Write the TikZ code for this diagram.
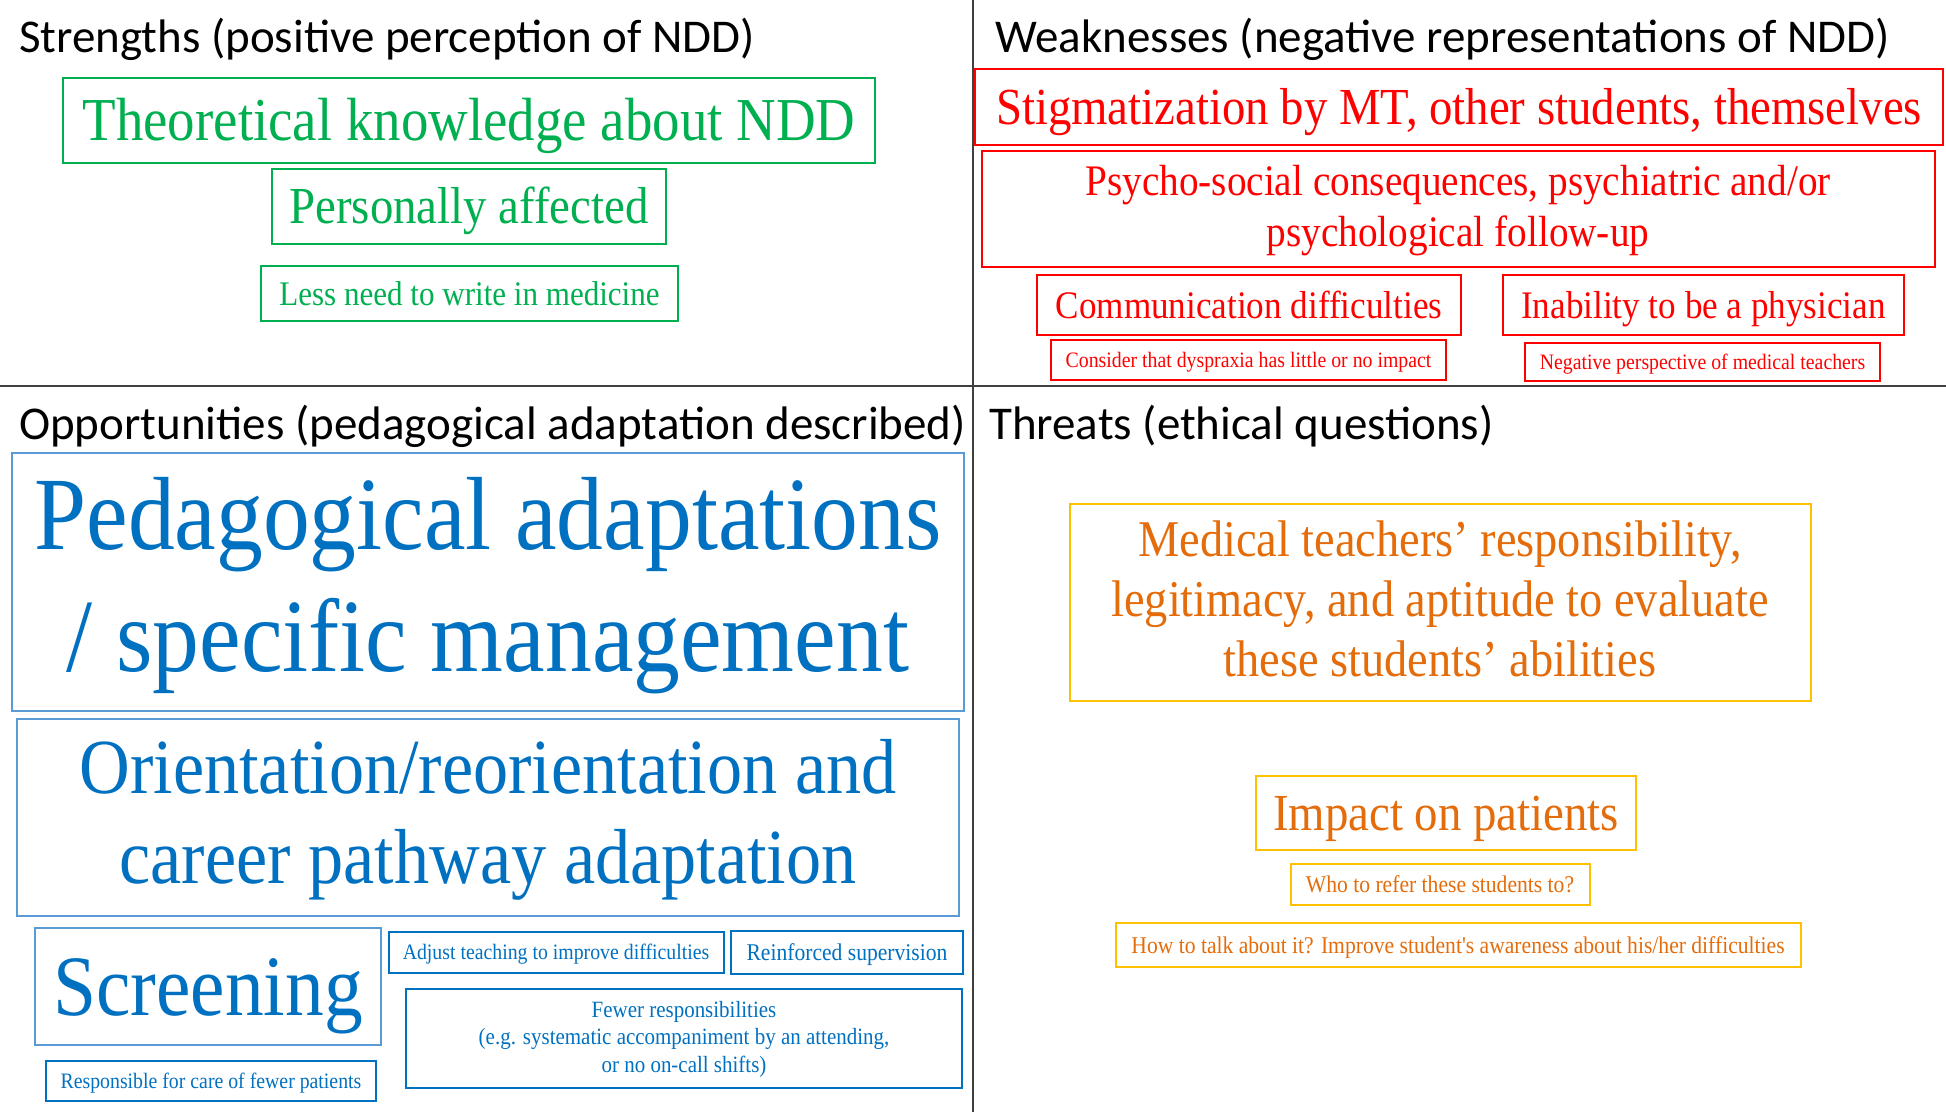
\documentclass[tikz,border=0pt]{standalone}
\usepackage{fontspec}
\usepackage{xcolor}
\usepackage{tikz}

\newfontfamily\tnr[FakeStretch=0.9]{Liberation Serif}
\newfontfamily\calib{Carlito}
\newcommand{\setfs}[2]{\fontsize{#1}{#2}\selectfont}
\newcommand{\topstrut}{\rule{0pt}{0.76em}}

\definecolor{sgreen}{HTML}{00B050}
\definecolor{wred}{HTML}{FF0000}
\definecolor{oblue}{HTML}{0070C0}
\definecolor{obluelight}{HTML}{5B9BD5}
\definecolor{torange}{HTML}{E46C0A}
\definecolor{tgold}{HTML}{FFC000}
\definecolor{divider}{HTML}{404040}

\tikzset{
  box/.style={draw, line width=2pt, inner sep=0pt, align=center, font=\tnr,
    execute at begin node={\rule{0pt}{0.89em}},
    execute at end node={\rule[-0.22em]{0pt}{0.22em}}},
  strength/.style={box, draw=sgreen, text=sgreen},
  weakness/.style={box, draw=wred, text=wred},
  opport/.style={box, draw=oblue, text=oblue},
  opportbig/.style={box, draw=obluelight, text=oblue},
  threat/.style={box, draw=tgold, text=torange},
  heading/.style={anchor=base west, inner sep=0pt, font=\calib\setfs{47}{56}}
}

\begin{document}
\begin{tikzpicture}[x=1pt, y=-1pt]
  \useasboundingbox (0,0) rectangle (1946,1112);

  % quadrant frame
  \coordinate (vtop) at (973,0);
  \coordinate (vbot) at (973,1112);
  \coordinate (hleft) at (0,386);
  \coordinate (hright) at (1946,386);
  \draw[divider, line width=2pt] (vtop) -- (vbot);
  \draw[divider, line width=2pt] (hleft) -- (hright);

  % headings
  \node[heading] (strengthsT) at (19,52.5) {Strengths (positive perception of NDD)};
  \node[heading] (weaknessesT) at (995,52.5) {Weaknesses (negative representations of NDD)};
  \node[heading] (opportunitiesT) at (19,439.5) {Opportunities (pedagogical adaptation described)};
  \node[heading] (threatsT) at (989,439.5) {Threats (ethical questions)};

  % strengths
  \node[strength, minimum width=812, minimum height=85, font=\tnr\setfs{61}{70}] (knowledge) at (469,120.5)
    {Theoretical knowledge about NDD};
  \node[strength, minimum width=394, minimum height=75, font=\tnr\setfs{52}{60}] (affected) at (469,206.5)
    {Personally affected};
  \node[strength, minimum width=417, minimum height=55, font=\tnr\setfs{34.5}{40}] (lesswrite) at (469.5,293.5)
    {Less need to write in medicine};

  % weaknesses
  \node[weakness, minimum width=968, minimum height=76, font=\tnr\setfs{52}{60}] (stigma) at (1459,107)
    {Stigmatization by MT, other students, themselves};
  \node[weakness, minimum width=953, minimum height=116, font=\tnr\setfs{43.6}{51}] (psycho) at (1458,209)
    {\topstrut Psycho-social consequences, psychiatric and/or\\psychological follow-up};
  \node[weakness, minimum width=424, minimum height=60, font=\tnr\setfs{39}{45}] (communic) at (1249,305)
    {Communication difficulties};
  \node[weakness, minimum width=401, minimum height=60, font=\tnr\setfs{39}{45}] (inability) at (1703.5,305)
    {Inability to be a physician};
  \node[weakness, minimum width=395, minimum height=40, font=\tnr\setfs{22}{26}] (dyspraxia) at (1248.5,360)
    {Consider that dyspraxia has little or no impact};
  \node[weakness, minimum width=355, minimum height=38, font=\tnr\setfs{22}{26}] (negative) at (1702.5,362)
    {Negative perspective of medical teachers};

  % opportunities
  \node[opportbig, minimum width=952, minimum height=258, font=\tnr\setfs{104}{122}] (pedagog) at (488,582)
    {\topstrut Pedagogical adaptations\\/ specific management};
  \node[opportbig, minimum width=942, minimum height=197, font=\tnr\setfs{78}{90}] (orient) at (488,817)
    {\topstrut Orientation/reorientation and\\career pathway adaptation};
  \node[opportbig, minimum width=346, minimum height=117, font=\tnr\setfs{86}{98}] (screening) at (208,986.5)
    {Screening};
  \node[opport, minimum width=335, minimum height=41, font=\tnr\setfs{22}{26}] (adjust) at (556,952.5)
    {Adjust teaching to improve difficulties};
  \node[opport, minimum width=232, minimum height=43, font=\tnr\setfs{24}{28}] (reinforced) at (847,952.5)
    {Reinforced supervision};
  \node[opport, minimum width=556, minimum height=99, font=\tnr\setfs{23.3}{27.5}] (fewer) at (684,1038.5)
    {\topstrut Fewer responsibilities\\(e.g. systematic accompaniment by an attending,\\or no on-call shifts)};
  \node[opport, minimum width=330, minimum height=40, font=\tnr\setfs{22}{26}] (fewpat) at (211,1081)
    {Responsible for care of fewer patients};

  % threats
  \node[threat, minimum width=741, minimum height=197, font=\tnr\setfs{51.5}{60}] (legitim) at (1440,602.5)
    {\topstrut Medical teachers’ responsibility,\\legitimacy, and aptitude to evaluate\\these students’ abilities};
  \node[threat, minimum width=380, minimum height=74, font=\tnr\setfs{52}{60}] (impact) at (1446,813)
    {Impact on patients};
  \node[threat, minimum width=299, minimum height=41, font=\tnr\setfs{24}{28}] (refer) at (1440,884.5)
    {Who to refer these students to?};
  \node[threat, minimum width=685, minimum height=44, font=\tnr\setfs{24}{28}] (talk) at (1458,945)
    {How to talk about it? Improve student's awareness about his/her difficulties};
\end{tikzpicture}
\end{document}
